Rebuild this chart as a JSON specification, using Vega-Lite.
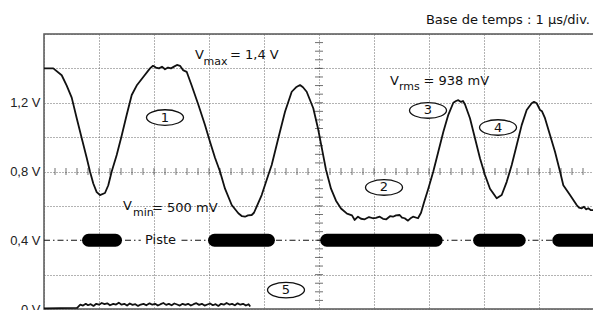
{
  "$schema": "https://vega.github.io/schema/vega-lite/v6.json",
  "width": 550,
  "height": 275,
  "autosize": {"type": "none"},
  "padding": {"left": 44, "top": 34, "right": 0, "bottom": 1},
  "background": "white",
  "config": {
    "view": {"stroke": "#555", "strokeWidth": 1.5},
    "font": "DejaVu Sans"
  },
  "datasets": {
    "wave": [
      {"trace": "a", "t": 0, "v": 1.40}, {"trace": "a", "t": 0.169, "v": 1.40}, {"trace": "a", "t": 0.322, "v": 1.36}, {"trace": "a", "t": 0.413, "v": 1.30},
      {"trace": "a", "t": 0.504, "v": 1.23}, {"trace": "a", "t": 0.595, "v": 1.11}, {"trace": "a", "t": 0.685, "v": 0.995}, {"trace": "a", "t": 0.776, "v": 0.88},
      {"trace": "a", "t": 0.836, "v": 0.80}, {"trace": "a", "t": 0.896, "v": 0.73}, {"trace": "a", "t": 0.958, "v": 0.68}, {"trace": "a", "t": 1.018, "v": 0.663},
      {"trace": "a", "t": 1.109, "v": 0.675}, {"trace": "a", "t": 1.169, "v": 0.72}, {"trace": "a", "t": 1.231, "v": 0.80}, {"trace": "a", "t": 1.322, "v": 0.896},
      {"trace": "a", "t": 1.413, "v": 1.01}, {"trace": "a", "t": 1.504, "v": 1.13}, {"trace": "a", "t": 1.595, "v": 1.245}, {"trace": "a", "t": 1.685, "v": 1.30},
      {"trace": "a", "t": 1.805, "v": 1.35}, {"trace": "a", "t": 1.927, "v": 1.40}, {"trace": "a", "t": 1.982, "v": 1.415}, {"trace": "a", "t": 2.036, "v": 1.405},
      {"trace": "a", "t": 2.091, "v": 1.40}, {"trace": "a", "t": 2.145, "v": 1.41}, {"trace": "a", "t": 2.2, "v": 1.395}, {"trace": "a", "t": 2.255, "v": 1.405},
      {"trace": "a", "t": 2.309, "v": 1.40}, {"trace": "a", "t": 2.364, "v": 1.41}, {"trace": "a", "t": 2.418, "v": 1.42}, {"trace": "a", "t": 2.473, "v": 1.415},
      {"trace": "a", "t": 2.527, "v": 1.39}, {"trace": "a", "t": 2.594, "v": 1.38}, {"trace": "a", "t": 2.685, "v": 1.30}, {"trace": "a", "t": 2.805, "v": 1.19},
      {"trace": "a", "t": 2.927, "v": 1.07}, {"trace": "a", "t": 3.018, "v": 0.973}, {"trace": "a", "t": 3.109, "v": 0.88}, {"trace": "a", "t": 3.2, "v": 0.80},
      {"trace": "a", "t": 3.291, "v": 0.70}, {"trace": "a", "t": 3.413, "v": 0.605}, {"trace": "a", "t": 3.533, "v": 0.557}, {"trace": "a", "t": 3.6, "v": 0.54},
      {"trace": "a", "t": 3.655, "v": 0.537}, {"trace": "a", "t": 3.709, "v": 0.545}, {"trace": "a", "t": 3.776, "v": 0.547}, {"trace": "a", "t": 3.818, "v": 0.56},
      {"trace": "a", "t": 3.867, "v": 0.595}, {"trace": "a", "t": 3.958, "v": 0.663}, {"trace": "a", "t": 4.078, "v": 0.78}, {"trace": "a", "t": 4.14, "v": 0.838},
      {"trace": "a", "t": 4.26, "v": 0.993}, {"trace": "a", "t": 4.382, "v": 1.148}, {"trace": "a", "t": 4.504, "v": 1.264}, {"trace": "a", "t": 4.582, "v": 1.29},
      {"trace": "a", "t": 4.655, "v": 1.303}, {"trace": "a", "t": 4.709, "v": 1.29}, {"trace": "a", "t": 4.776, "v": 1.264}, {"trace": "a", "t": 4.896, "v": 1.168},
      {"trace": "a", "t": 4.982, "v": 1.05}, {"trace": "a", "t": 5.055, "v": 0.93}, {"trace": "a", "t": 5.127, "v": 0.81}, {"trace": "a", "t": 5.218, "v": 0.70},
      {"trace": "a", "t": 5.309, "v": 0.63}, {"trace": "a", "t": 5.4, "v": 0.585}, {"trace": "a", "t": 5.509, "v": 0.555}, {"trace": "a", "t": 5.6, "v": 0.545},
      {"trace": "a", "t": 5.649, "v": 0.518}, {"trace": "a", "t": 5.709, "v": 0.537}, {"trace": "a", "t": 5.764, "v": 0.525}, {"trace": "a", "t": 5.831, "v": 0.522},
      {"trace": "a", "t": 5.909, "v": 0.535}, {"trace": "a", "t": 5.982, "v": 0.528}, {"trace": "a", "t": 6.036, "v": 0.53}, {"trace": "a", "t": 6.104, "v": 0.537},
      {"trace": "a", "t": 6.164, "v": 0.525}, {"trace": "a", "t": 6.224, "v": 0.522}, {"trace": "a", "t": 6.291, "v": 0.54}, {"trace": "a", "t": 6.345, "v": 0.537},
      {"trace": "a", "t": 6.4, "v": 0.545}, {"trace": "a", "t": 6.467, "v": 0.547}, {"trace": "a", "t": 6.509, "v": 0.532}, {"trace": "a", "t": 6.558, "v": 0.528},
      {"trace": "a", "t": 6.618, "v": 0.514}, {"trace": "a", "t": 6.673, "v": 0.53}, {"trace": "a", "t": 6.709, "v": 0.537}, {"trace": "a", "t": 6.8, "v": 0.528},
      {"trace": "a", "t": 6.855, "v": 0.56}, {"trace": "a", "t": 6.909, "v": 0.62}, {"trace": "a", "t": 6.987, "v": 0.70}, {"trace": "a", "t": 7.078, "v": 0.80},
      {"trace": "a", "t": 7.169, "v": 0.915}, {"trace": "a", "t": 7.26, "v": 1.03}, {"trace": "a", "t": 7.351, "v": 1.13}, {"trace": "a", "t": 7.442, "v": 1.2},
      {"trace": "a", "t": 7.491, "v": 1.21}, {"trace": "a", "t": 7.533, "v": 1.215}, {"trace": "a", "t": 7.582, "v": 1.205}, {"trace": "a", "t": 7.618, "v": 1.21},
      {"trace": "a", "t": 7.655, "v": 1.19}, {"trace": "a", "t": 7.745, "v": 1.11}, {"trace": "a", "t": 7.836, "v": 0.993}, {"trace": "a", "t": 7.927, "v": 0.877},
      {"trace": "a", "t": 8.018, "v": 0.78}, {"trace": "a", "t": 8.109, "v": 0.70}, {"trace": "a", "t": 8.231, "v": 0.644}, {"trace": "a", "t": 8.322, "v": 0.663},
      {"trace": "a", "t": 8.413, "v": 0.74}, {"trace": "a", "t": 8.504, "v": 0.838}, {"trace": "a", "t": 8.595, "v": 0.954}, {"trace": "a", "t": 8.685, "v": 1.07},
      {"trace": "a", "t": 8.776, "v": 1.158}, {"trace": "a", "t": 8.867, "v": 1.197}, {"trace": "a", "t": 8.909, "v": 1.205}, {"trace": "a", "t": 8.958, "v": 1.197},
      {"trace": "a", "t": 9.018, "v": 1.158}, {"trace": "a", "t": 9.055, "v": 1.15}, {"trace": "a", "t": 9.109, "v": 1.11}, {"trace": "a", "t": 9.2, "v": 1.012},
      {"trace": "a", "t": 9.291, "v": 0.915}, {"trace": "a", "t": 9.382, "v": 0.80}, {"trace": "a", "t": 9.442, "v": 0.72}, {"trace": "a", "t": 9.564, "v": 0.663},
      {"trace": "a", "t": 9.685, "v": 0.605}, {"trace": "a", "t": 9.727, "v": 0.59}, {"trace": "a", "t": 9.776, "v": 0.586}, {"trace": "a", "t": 9.818, "v": 0.595},
      {"trace": "a", "t": 9.855, "v": 0.58}, {"trace": "a", "t": 9.896, "v": 0.586}, {"trace": "a", "t": 9.945, "v": 0.575}, {"trace": "a", "t": 10, "v": 0.576},
      {"trace": "b", "t": 0, "v": 0.004}, {"trace": "b", "t": 0.6, "v": 0.006}, {"trace": "b", "t": 0.62, "v": 0.012}, {"trace": "b", "t": 0.66, "v": 0.025},
      {"trace": "b", "t": 0.71, "v": 0.02}, {"trace": "b", "t": 0.76, "v": 0.03}, {"trace": "b", "t": 0.8, "v": 0.022}, {"trace": "b", "t": 0.85, "v": 0.028},
      {"trace": "b", "t": 0.9, "v": 0.018}, {"trace": "b", "t": 0.95, "v": 0.03}, {"trace": "b", "t": 1.0, "v": 0.025}, {"trace": "b", "t": 1.05, "v": 0.035},
      {"trace": "b", "t": 1.1, "v": 0.028}, {"trace": "b", "t": 1.15, "v": 0.033}, {"trace": "b", "t": 1.2, "v": 0.022}, {"trace": "b", "t": 1.26, "v": 0.03},
      {"trace": "b", "t": 1.31, "v": 0.026}, {"trace": "b", "t": 1.36, "v": 0.037}, {"trace": "b", "t": 1.41, "v": 0.025}, {"trace": "b", "t": 1.46, "v": 0.03},
      {"trace": "b", "t": 1.51, "v": 0.02}, {"trace": "b", "t": 1.56, "v": 0.032}, {"trace": "b", "t": 1.61, "v": 0.024}, {"trace": "b", "t": 1.66, "v": 0.028},
      {"trace": "b", "t": 1.71, "v": 0.018}, {"trace": "b", "t": 1.76, "v": 0.026}, {"trace": "b", "t": 1.81, "v": 0.03}, {"trace": "b", "t": 1.86, "v": 0.022},
      {"trace": "b", "t": 1.92, "v": 0.033}, {"trace": "b", "t": 1.97, "v": 0.025}, {"trace": "b", "t": 2.02, "v": 0.03}, {"trace": "b", "t": 2.07, "v": 0.02},
      {"trace": "b", "t": 2.12, "v": 0.028}, {"trace": "b", "t": 2.17, "v": 0.035}, {"trace": "b", "t": 2.22, "v": 0.024}, {"trace": "b", "t": 2.27, "v": 0.03},
      {"trace": "b", "t": 2.32, "v": 0.022}, {"trace": "b", "t": 2.37, "v": 0.032}, {"trace": "b", "t": 2.42, "v": 0.026}, {"trace": "b", "t": 2.47, "v": 0.02},
      {"trace": "b", "t": 2.52, "v": 0.03}, {"trace": "b", "t": 2.57, "v": 0.024}, {"trace": "b", "t": 2.62, "v": 0.03}, {"trace": "b", "t": 2.67, "v": 0.02},
      {"trace": "b", "t": 2.72, "v": 0.028}, {"trace": "b", "t": 2.77, "v": 0.034}, {"trace": "b", "t": 2.82, "v": 0.024}, {"trace": "b", "t": 2.87, "v": 0.03},
      {"trace": "b", "t": 2.92, "v": 0.02}, {"trace": "b", "t": 2.97, "v": 0.026}, {"trace": "b", "t": 3.02, "v": 0.032}, {"trace": "b", "t": 3.07, "v": 0.022},
      {"trace": "b", "t": 3.12, "v": 0.028}, {"trace": "b", "t": 3.17, "v": 0.018}, {"trace": "b", "t": 3.22, "v": 0.03}, {"trace": "b", "t": 3.27, "v": 0.025},
      {"trace": "b", "t": 3.32, "v": 0.035}, {"trace": "b", "t": 3.37, "v": 0.026}, {"trace": "b", "t": 3.42, "v": 0.03}, {"trace": "b", "t": 3.47, "v": 0.022},
      {"trace": "b", "t": 3.52, "v": 0.033}, {"trace": "b", "t": 3.57, "v": 0.025}, {"trace": "b", "t": 3.62, "v": 0.03}, {"trace": "b", "t": 3.67, "v": 0.02},
      {"trace": "b", "t": 3.72, "v": 0.028}, {"trace": "b", "t": 3.75, "v": 0.015}
    ],
    "ticksH": [
      {"t": 0.2, "v": 0.8}, {"t": 0.4, "v": 0.8}, {"t": 0.6, "v": 0.8}, {"t": 0.8, "v": 0.8}, {"t": 1.0, "v": 0.8},
      {"t": 1.2, "v": 0.8}, {"t": 1.4, "v": 0.8}, {"t": 1.6, "v": 0.8}, {"t": 1.8, "v": 0.8}, {"t": 2.0, "v": 0.8},
      {"t": 2.2, "v": 0.8}, {"t": 2.4, "v": 0.8}, {"t": 2.6, "v": 0.8}, {"t": 2.8, "v": 0.8}, {"t": 3.0, "v": 0.8},
      {"t": 3.2, "v": 0.8}, {"t": 3.4, "v": 0.8}, {"t": 3.6, "v": 0.8}, {"t": 3.8, "v": 0.8}, {"t": 4.0, "v": 0.8},
      {"t": 4.2, "v": 0.8}, {"t": 4.4, "v": 0.8}, {"t": 4.6, "v": 0.8}, {"t": 4.8, "v": 0.8},
      {"t": 5.2, "v": 0.8}, {"t": 5.4, "v": 0.8}, {"t": 5.6, "v": 0.8}, {"t": 5.8, "v": 0.8}, {"t": 6.0, "v": 0.8},
      {"t": 6.2, "v": 0.8}, {"t": 6.4, "v": 0.8}, {"t": 6.6, "v": 0.8}, {"t": 6.8, "v": 0.8}, {"t": 7.0, "v": 0.8},
      {"t": 7.2, "v": 0.8}, {"t": 7.4, "v": 0.8}, {"t": 7.6, "v": 0.8}, {"t": 7.8, "v": 0.8}, {"t": 8.0, "v": 0.8},
      {"t": 8.2, "v": 0.8}, {"t": 8.4, "v": 0.8}, {"t": 8.6, "v": 0.8}, {"t": 8.8, "v": 0.8}, {"t": 9.0, "v": 0.8},
      {"t": 9.2, "v": 0.8}, {"t": 9.4, "v": 0.8}, {"t": 9.6, "v": 0.8}, {"t": 9.8, "v": 0.8}
    ],
    "ticksV": [
      {"t": 5, "v": 0.05}, {"t": 5, "v": 0.1}, {"t": 5, "v": 0.15}, {"t": 5, "v": 0.2}, {"t": 5, "v": 0.25},
      {"t": 5, "v": 0.3}, {"t": 5, "v": 0.35}, {"t": 5, "v": 0.4}, {"t": 5, "v": 0.45}, {"t": 5, "v": 0.5},
      {"t": 5, "v": 0.55}, {"t": 5, "v": 0.6}, {"t": 5, "v": 0.65}, {"t": 5, "v": 0.7}, {"t": 5, "v": 0.75},
      {"t": 5, "v": 0.85}, {"t": 5, "v": 0.9}, {"t": 5, "v": 0.95}, {"t": 5, "v": 1.0}, {"t": 5, "v": 1.05},
      {"t": 5, "v": 1.1}, {"t": 5, "v": 1.15}, {"t": 5, "v": 1.2}, {"t": 5, "v": 1.25}, {"t": 5, "v": 1.3},
      {"t": 5, "v": 1.35}, {"t": 5, "v": 1.4}, {"t": 5, "v": 1.45}, {"t": 5, "v": 1.5}, {"t": 5, "v": 1.55}
    ],
    "piste": [
      {"t": 0, "t2": 1.76, "v": 0.4}, {"t": 2.5, "t2": 10, "v": 0.4}
    ],
    "bars": [
      {"t": 0.81, "t2": 1.30, "v": 0.4}, {"t": 3.10, "t2": 4.08, "v": 0.4}, {"t": 5.14, "t2": 7.13, "v": 0.4},
      {"t": 7.92, "t2": 8.64, "v": 0.4}, {"t": 9.36, "t2": 10.3, "v": 0.4}
    ],
    "txt": [
      {"t": 2.745, "v": 1.478, "s": "V"}, {"t": 3.382, "v": 1.48, "s": "= 1,4 V"},
      {"t": 6.291, "v": 1.326, "s": "V"}, {"t": 6.9, "v": 1.326, "s": "= 938 mV"},
      {"t": 1.436, "v": 0.599, "s": "V"}, {"t": 1.964, "v": 0.59, "s": "= 500 mV"},
      {"t": 1.836, "v": 0.401, "s": "Piste"}
    ],
    "sub": [
      {"t": 2.9, "v": 1.44, "s": "max"}, {"t": 6.455, "v": 1.289, "s": "rms"}, {"t": 1.618, "v": 0.558, "s": "min"}
    ],
    "tags": [
      {"t": 2.2, "v": 1.114, "n": "1"}, {"t": 6.182, "v": 0.707, "n": "2"}, {"t": 6.982, "v": 1.155, "n": "3"},
      {"t": 8.255, "v": 1.056, "n": "4"}, {"t": 4.4, "v": 0.11, "n": "5"}
    ],
    "head": [
      {"t": 9.927, "v": 1.681, "s": "Base de temps : 1 µs/div."}
    ]
  },
  "encoding": {
    "x": {
      "field": "t", "type": "quantitative",
      "scale": {"domain": [0, 10], "nice": false, "zero": false},
      "axis": {"values": [0, 1, 2, 3, 4, 5, 6, 7, 8, 9, 10], "labels": false, "ticks": false, "domain": false, "title": null,
               "grid": true, "gridColor": "#666", "gridDash": [1, 2], "gridWidth": 1}
    },
    "y": {
      "field": "v", "type": "quantitative",
      "scale": {"domain": [0, 1.6], "nice": false, "zero": false},
      "axis": {"values": [0, 0.2, 0.4, 0.6, 0.8, 1.0, 1.2, 1.4, 1.6], "ticks": false, "domain": false, "title": null,
               "grid": true, "gridColor": "#666", "gridDash": [1, 2], "gridWidth": 1,
               "gridOpacity": {"condition": {"test": "round(datum.value*10) == 4", "value": 0}, "value": 1},
               "labelExpr": "(round(datum.value*10) % 4 == 0 && datum.value < 1.5) ? (datum.value == 0 ? '0 V' : replace(format(datum.value, '.1f'), '.', ',') + ' V') : ''",
               "labelFont": "Liberation Sans", "labelFontSize": 13, "labelColor": "#222", "labelPadding": 4}
    }
  },
  "layer": [
    {
      "data": {"name": "ticksH"},
      "mark": {"type": "tick", "orient": "vertical", "size": 7, "thickness": 1, "color": "#333"}
    },
    {
      "data": {"name": "ticksV"},
      "mark": {"type": "tick", "orient": "horizontal", "size": 8, "thickness": 1, "color": "#333"}
    },
    {
      "data": {"name": "piste"},
      "mark": {"type": "rule", "color": "#111", "strokeWidth": 1.2, "strokeDash": [6, 3, 1.5, 3]},
      "encoding": {"x2": {"field": "t2"}}
    },
    {
      "data": {"name": "bars"},
      "mark": {"type": "rule", "color": "#000", "strokeWidth": 13, "strokeCap": "round"},
      "encoding": {"x2": {"field": "t2"}}
    },
    {
      "data": {"name": "wave"},
      "mark": {"type": "line", "color": "#111", "strokeWidth": 1.8, "strokeJoin": "round"},
      "encoding": {"detail": {"field": "trace"}}
    },
    {
      "data": {"name": "tags"},
      "mark": {"type": "point", "shape": "M -1 0 A 1 0.42 0 1 1 1 0 A 1 0.42 0 1 1 -1 0 Z", "size": 1369,
               "filled": true, "fill": "white", "stroke": "#111", "strokeWidth": 1.3, "opacity": 1}
    },
    {
      "data": {"name": "tags"},
      "mark": {"type": "text", "font": "DejaVu Sans", "fontSize": 13, "color": "#111", "align": "center", "baseline": "middle"},
      "encoding": {"text": {"field": "n"}}
    },
    {
      "data": {"name": "txt"},
      "mark": {"type": "text", "font": "DejaVu Sans", "fontSize": 13, "color": "#111", "align": "left", "baseline": "middle"},
      "encoding": {"text": {"field": "s"}}
    },
    {
      "data": {"name": "sub"},
      "mark": {"type": "text", "font": "DejaVu Sans", "fontSize": 11, "color": "#111", "align": "left", "baseline": "middle"},
      "encoding": {"text": {"field": "s"}}
    },
    {
      "data": {"name": "head"},
      "mark": {"type": "text", "font": "DejaVu Sans", "fontSize": 13, "color": "#111", "align": "right", "baseline": "middle"},
      "encoding": {"text": {"field": "s"}}
    }
  ]
}
